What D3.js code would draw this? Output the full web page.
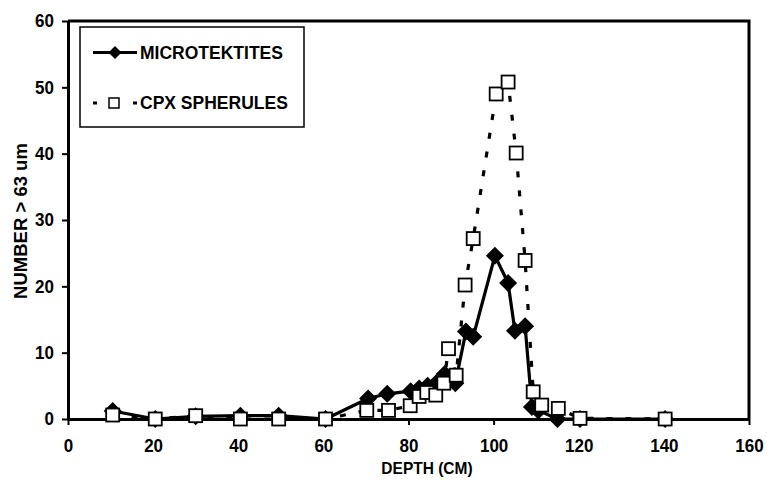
<!DOCTYPE html>
<html><head><meta charset="utf-8">
<script src="https://cdn.jsdelivr.net/npm/d3@7"></script>
<style>
body{margin:0;background:#fff;}
text{font-family:"Liberation Sans",Arial,sans-serif;font-weight:bold;fill:#000;}
.tall{transform-box:fill-box;transform-origin:center;transform:scaleY(1.08);}
</style></head>
<body><svg id="c" width="767" height="486"></svg>
<script>
const mtDepth = [10.5,20.5,30,40.5,49.5,60.5,70.5,75,80.5,82.5,84.5,86.5,88.5,91,93.5,95.2,100.3,103.4,105,107.4,109,110.5,115,120.3,140.3];
const mtValue = [1.2,0,0.4,0.5,0.5,0,3.1,3.8,4.2,4.6,5.0,5.4,6.8,5.4,13.2,12.4,24.6,20.5,13.3,14,1.8,1.3,0,0,0];
const cpxDepth = [10.5,20.5,30,40.5,49.5,60.5,70.2,75.3,80.4,82.5,84.3,86.4,88.3,89.4,91.2,93.3,95.2,100.6,103.4,105.3,107.4,109.3,111.3,115.2,120.3,140.3];
const cpxValue = [0.6,0,0.5,0,0,0,1.3,1.3,2,3.4,4,3.6,5.4,10.6,6.6,20.2,27.2,49,50.8,40.1,23.9,4.1,2.1,1.6,0.1,0];
const xTicks = [0,20,40,60,80,100,120,140,160];
const yTicks = [0,10,20,30,40,50,60];
const seriesNames = ["MICROTEKTITES","CPX SPHERULES"];
const xTitle = "DEPTH (CM)";
const yTitle = "NUMBER > 63 um";

const svg = d3.select("#c");
const x = d3.scaleLinear().domain([0,160]).range([68,749]);
const y = d3.scaleLinear().domain([0,60]).range([419,21]);

// frame top/right
svg.append("path").attr("d",`M${x(0)},${y(60)}H${x(160)}V${y(0)}`)
  .attr("fill","none").attr("stroke","#000").attr("stroke-width",3);

const gx = svg.append("g").attr("transform",`translate(0,${y(0)})`)
  .call(d3.axisBottom(x).tickValues(xTicks).tickSize(6).tickSizeOuter(0).tickPadding(14));
const gy = svg.append("g").attr("transform",`translate(${x(0)},0)`)
  .call(d3.axisLeft(y).tickValues(yTicks).tickSize(6).tickSizeOuter(0).tickPadding(8));
[gx,gy].forEach(g=>{
  g.attr("font-family",null).attr("font-size",null);
  g.selectAll("text").style("font-size","17px").classed("tall",true);
  g.select(".domain").attr("stroke-width",3).attr("stroke","#000");
  g.selectAll(".tick line").attr("stroke-width",2).attr("stroke","#000");
});

svg.append("text").attr("class","tall").attr("x",427).attr("y",474).attr("text-anchor","middle")
  .style("font-size","15.5px").text(xTitle);
svg.append("text").attr("transform","translate(27,221) rotate(-90)").attr("text-anchor","middle")
  .style("font-size","18.5px").text(yTitle);

const mt = mtDepth.map((d,i)=>[d,mtValue[i]]);
const cpx = cpxDepth.map((d,i)=>[d,cpxValue[i]]);
const line = d3.line().x(d=>x(d[0])).y(d=>y(d[1]));

svg.append("path").datum(cpx).attr("d",line).attr("fill","none")
  .attr("stroke","#000").attr("stroke-width",3.2).attr("stroke-dasharray","6,13");
svg.append("path").datum(mt).attr("d",line).attr("fill","none")
  .attr("stroke","#000").attr("stroke-width",3.2).attr("stroke-linejoin","round");

const diamond = r => `M0,${-r}L${r},0L0,${r}L${-r},0Z`;
svg.append("g").selectAll("path").data(mt).join("path")
  .attr("transform",d=>`translate(${x(d[0])},${y(d[1])})`)
  .attr("d",diamond(9)).attr("fill","#000");
svg.append("g").selectAll("rect").data(cpx).join("rect")
  .attr("x",d=>x(d[0])-6.5).attr("y",d=>y(d[1])-6.5).attr("width",13).attr("height",13)
  .attr("fill","#fff").attr("stroke","#000").attr("stroke-width",1.8);

// legend
const lg = svg.append("g");
lg.append("rect").attr("x",80).attr("y",27).attr("width",224).attr("height",100)
  .attr("fill","#fff").attr("stroke","#000").attr("stroke-width",1.5);
lg.append("line").attr("x1",93).attr("x2",137).attr("y1",52.5).attr("y2",52.5)
  .attr("stroke","#000").attr("stroke-width",3);
lg.append("path").attr("transform","translate(115,52.5)").attr("d",diamond(6.5)).attr("fill","#000");
lg.append("text").attr("x",140).attr("y",52.5).attr("dy","0.36em").style("font-size","17.5px").text(seriesNames[0]);
lg.append("line").attr("x1",93).attr("x2",137).attr("y1",103).attr("y2",103)
  .attr("stroke","#000").attr("stroke-width",3).attr("stroke-dasharray","4,16");
lg.append("rect").attr("x",109).attr("y",98).attr("width",10).attr("height",10)
  .attr("fill","#fff").attr("stroke","#000").attr("stroke-width",1.5);
lg.append("text").attr("x",140).attr("y",103).attr("dy","0.36em").style("font-size","17.5px").text(seriesNames[1]);
</script></body></html>
